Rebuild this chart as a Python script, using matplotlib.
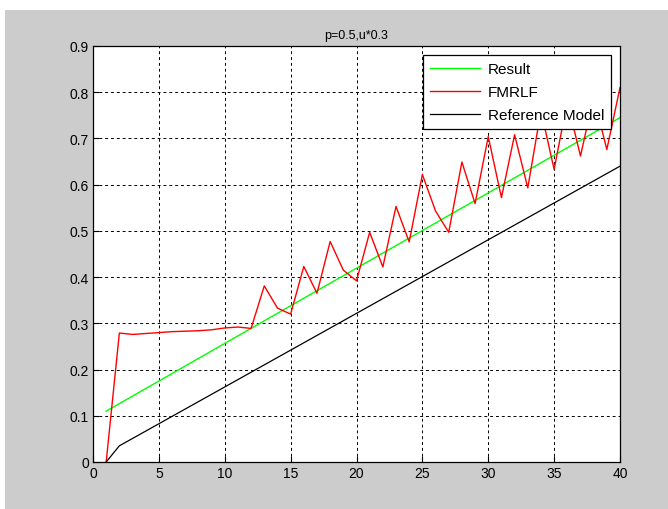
import matplotlib.pyplot as plt
from matplotlib.patches import Rectangle

# donnees
x_fmrlf = list(range(1, 41))
fmrlf = [0, 0.279, 0.276, 0.278, 0.280, 0.282, 0.283, 0.284, 0.286, 0.290,
         0.292, 0.289, 0.381, 0.333, 0.320, 0.423, 0.365, 0.477, 0.415, 0.392,
         0.497, 0.422, 0.553, 0.476, 0.622, 0.543, 0.497, 0.649, 0.559, 0.704,
         0.572, 0.708, 0.593, 0.760, 0.633, 0.780, 0.662, 0.790, 0.676, 0.810]

x_result = [1, 40]
result = [0.11, 0.745]

x_ref = [1, 2, 40]
ref_model = [0, 0.035, 0.64]

x_ticks = [0, 5, 10, 15, 20, 25, 30, 35, 40]
y_ticks = [0, 0.1, 0.2, 0.3, 0.4, 0.5, 0.6, 0.7, 0.8, 0.9]
y_labels = ['0', '0.1', '0.2', '0.3', '0.4', '0.5', '0.6', '0.7', '0.8', '0.9']

plt.rcParams['font.family'] = ['Liberation Sans', 'DejaVu Sans']

fig = plt.figure(figsize=(6.68, 5.10), dpi=100, facecolor='white')
# fond gris facon matlab
fig.patches.append(Rectangle((5 / 668, 0), 1, 499 / 510, transform=fig.transFigure,
                             facecolor='#cccccc', edgecolor='none', zorder=-1))

ax = fig.add_axes([93 / 668, 47 / 510, 527 / 668, 416 / 510])
ax.set_facecolor('white')

ax.plot(x_result, result, color='#00ff00', lw=1.0, label='Result')
ax.plot(x_fmrlf, fmrlf, color='#ff0000', lw=1.0, label='FMRLF')
ax.plot(x_ref, ref_model, color='black', lw=0.9, label='Reference Model')

ax.set_xlim(0, 40)
ax.set_ylim(0, 0.9)
ax.set_xticks(x_ticks)
ax.set_yticks(y_ticks)
ax.set_yticklabels(y_labels)
ax.tick_params(direction='in', length=4, labelsize=10, colors='black', pad=3)
ax.grid(True, color='black', linestyle=(0, (3, 3)), lw=0.7)
for s in ax.spines.values():
    s.set_linewidth(0.9)

ax.set_title('p=0.5,u*0.3', fontsize=9, pad=6)

leg = ax.legend(loc='upper right', fontsize=11, fancybox=False, framealpha=1,
                edgecolor='black', borderaxespad=0.6, handlelength=3.3,
                labelspacing=0.6, borderpad=0.45, handletextpad=0.5)
leg.get_frame().set_linewidth(0.9)

plt.savefig('out.png', dpi=100, facecolor=fig.get_facecolor())
